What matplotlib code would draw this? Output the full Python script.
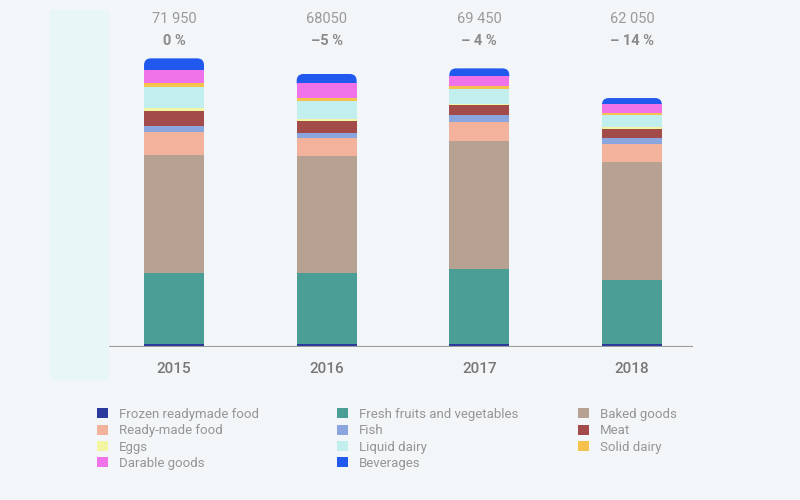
import matplotlib.pyplot as plt
import matplotlib.transforms as mtransforms
from matplotlib.patches import FancyBboxPatch, Rectangle, Patch
import numpy as np

plt.rcParams['font.family'] = ['Roboto', 'DejaVu Sans']

years = ['2015', '2016', '2017', '2018']
totals = ['71 950', '68050', '69 450', '62 050']
changes = ['0 %', '–5 %', '– 4 %', '– 14 %']

# stacked from bottom to top
frozen = [750, 750, 750, 750]
fresh = [17700, 17700, 18700, 15900]
baked = [29400, 29050, 31850, 29550]
ready = [5700, 4700, 4700, 4500]
fish = [1500, 1250, 1750, 1500]
meat = [3700, 3000, 2500, 2250]
eggs = [750, 400, 250, 350]
liquid = [5300, 4500, 3750, 3000]
solid = [900, 750, 750, 500]
darable = [3400, 3700, 2500, 2250]
beverages = [2850, 2250, 1950, 1500]

names = ['Frozen readymade food', 'Fresh fruits and vegetables', 'Baked goods',
         'Ready-made food', 'Fish', 'Meat', 'Eggs', 'Liquid dairy',
         'Solid dairy', 'Darable goods', 'Beverages']
series = [frozen, fresh, baked, ready, fish, meat, eggs, liquid, solid,
          darable, beverages]
colors = ['#2a3a9c', '#4b9e96', '#b6a193', '#f2b29c', '#8ba6df', '#a34a4b',
          '#f3f5a2', '#c3eeee', '#f4c24d', '#ef72e8', '#2159ef']

bg = '#f2f6f8'
fig = plt.figure(figsize=(8, 5), dpi=100, facecolor=bg)
# light band on the left
fig.patches.append(Rectangle((50 / 800, 1 - 380 / 500), 59 / 800, 370 / 500,
                             transform=fig.transFigure, facecolor='#e8f6f8',
                             edgecolor='none', zorder=0))

ax = fig.add_axes([109 / 800, 153 / 500, 584 / 800, 337 / 500])
ax.set_facecolor('none')
x = np.arange(len(years))
w = 0.393
ax.set_xlim(-0.426, 3.40)
ax.set_ylim(0, 84000)

# data units per pixel, for rounding the top corners
asp = (84000 / 337) / ((3.40 + 0.426) / 584)

bottom = np.zeros(len(years))
for i, (vals, col) in enumerate(zip(series, colors)):
    vals = np.array(vals, dtype=float)
    if names[i] == 'Beverages':
        for j in range(len(years)):
            extra = 1500
            p = FancyBboxPatch((x[j] - w / 2, bottom[j] - extra), w, vals[j] + extra,
                               boxstyle='round,pad=0,rounding_size=0.045',
                               mutation_aspect=asp, facecolor=col,
                               edgecolor='none', zorder=1)
            ax.add_patch(p)
    else:
        ax.bar(x, vals, w, bottom=bottom, color=col, zorder=2)
    bottom += vals

ax.axhline(0, xmin=0, xmax=1, color='#9a9a9a', lw=1.5, zorder=3)
for s in ax.spines.values():
    s.set_visible(False)
ax.set_yticks([])
ax.set_xticks(x)
ax.set_xticklabels(years, fontsize=11, color='#777777', fontweight='medium')
ax.tick_params(axis='x', length=0, pad=11)

trans = mtransforms.blended_transform_factory(ax.transData, fig.transFigure)
for j in range(len(years)):
    ax.text(x[j], 1 - 19 / 500, totals[j], transform=trans, ha='center',
            va='center', fontsize=10.5, color='#9a9a9a')
    ax.text(x[j], 1 - 41 / 500, changes[j], transform=trans, ha='center',
            va='center', fontsize=10.5, color='#8a8a8a', fontweight='bold')

handles = [Patch(facecolor=c, edgecolor='none') for c in colors]
cols = [[0, 3, 6, 9], [1, 4, 7, 10], [2, 5, 8]]
xpos = [97, 337, 578]
for k, idx in enumerate(cols):
    leg = fig.legend([handles[i] for i in idx], [names[i] for i in idx],
                     loc='upper left', bbox_to_anchor=(xpos[k] / 800, 1 - 408 / 500),
                     frameon=False, fontsize=9.5, handlelength=0.8,
                     handleheight=0.8, handletextpad=0.85, labelspacing=0.25,
                     borderaxespad=0, borderpad=0)
    for t in leg.get_texts():
        t.set_color('#959595')

fig.savefig('out.png', dpi=100, facecolor=bg)
